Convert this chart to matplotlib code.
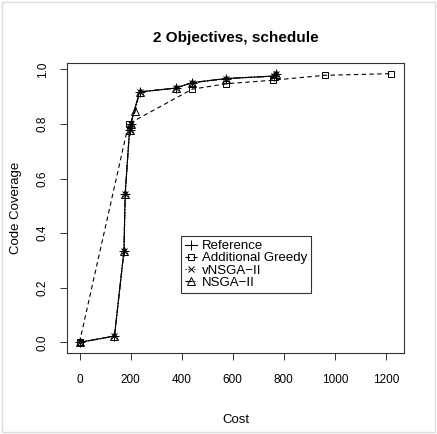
import matplotlib.pyplot as plt
from matplotlib.patches import Rectangle

plt.rcParams["font.family"] = ["Liberation Sans", "DejaVu Sans"]

# Data
ref_cost = [0, 137, 174, 179, 196, 200, 235, 376, 441, 575, 760, 771]
ref_cov = [0.0, 0.023, 0.334, 0.545, 0.777, 0.800, 0.917, 0.931, 0.951, 0.966, 0.975, 0.984]

greedy_cost = [0, 192, 441, 575, 758, 961, 1222]
greedy_cov = [0.0, 0.800, 0.927, 0.947, 0.960, 0.978, 0.984]

vnsga_cost = [0, 137, 174, 179, 196, 200, 235, 376, 441, 575, 760, 771]
vnsga_cov = [0.0, 0.023, 0.334, 0.545, 0.777, 0.800, 0.917, 0.931, 0.951, 0.966, 0.975, 0.984]

nsga_cost = [0, 137, 174, 179, 196, 200, 218, 235, 376, 441, 575, 760, 771]
nsga_cov = [0.0, 0.023, 0.334, 0.545, 0.777, 0.800, 0.846, 0.917, 0.931, 0.951, 0.966, 0.975, 0.984]

x_ticks = [0, 200, 400, 600, 800, 1000, 1200]
y_ticks = [0.0, 0.2, 0.4, 0.6, 0.8, 1.0]

fig = plt.figure(figsize=(4.37, 4.34), dpi=100)
ax = fig.add_axes([67 / 437, 1 - 353 / 434, (404 - 67) / 437, (353 - 63) / 434])

lw = 0.8
ax.plot(ref_cost, ref_cov, color="black", linestyle="-", linewidth=lw,
        marker="+", markersize=7, markeredgewidth=0.7, label="Reference")
ax.plot(greedy_cost, greedy_cov, color="black", linestyle=(0, (4, 3)), linewidth=lw,
        marker="s", markersize=5, markerfacecolor="none", markeredgewidth=0.7,
        label="Additional Greedy")
ax.plot(vnsga_cost, vnsga_cov, color="black", linestyle=":", linewidth=lw,
        marker="x", markersize=5, markeredgewidth=0.7, label="vNSGA\u2212II")
ax.plot(nsga_cost, nsga_cov, color="black", linestyle="-.", linewidth=lw,
        marker="^", markersize=6, markerfacecolor="none", markeredgewidth=0.7,
        label="NSGA\u2212II")

ax.set_xlim(-49, 1271)
ax.set_ylim(-0.039, 1.023)
ax.set_xticks(x_ticks)
ax.set_yticks(y_ticks)
ax.set_xticklabels([str(t) for t in x_ticks], fontsize=8.5)
ax.set_yticklabels(["%.1f" % t for t in y_ticks], fontsize=8.5, rotation=90, va="center")
ax.tick_params(axis="x", direction="out", length=5, width=0.7, color="#333333", pad=10)
ax.tick_params(axis="y", direction="out", length=5, width=0.7, color="#333333", pad=8)
for s in ax.spines.values():
    s.set_linewidth(0.8)
    s.set_color("#333333")

ax.set_title("2 Objectives, schedule", fontsize=11, fontweight="bold", pad=15)
ax.set_xlabel("Cost", fontsize=9.5, labelpad=20)
ax.set_ylabel("Code Coverage", fontsize=9.5, labelpad=11)

leg = ax.legend(loc="upper left", bbox_to_anchor=((181 - 67) / 337, (353 - 236) / 290),
                fontsize=9.5, frameon=True, fancybox=False, edgecolor="black",
                handlelength=0.9, handletextpad=0.4, labelspacing=0.0,
                borderpad=0.3, borderaxespad=0)
leg.get_frame().set_linewidth(0.8)

fig.patches.append(Rectangle((0.004, 0.004), 0.992, 0.992, transform=fig.transFigure,
                             fill=False, edgecolor="#dddddd", linewidth=1.0))

fig.savefig("out.png", dpi=100)
